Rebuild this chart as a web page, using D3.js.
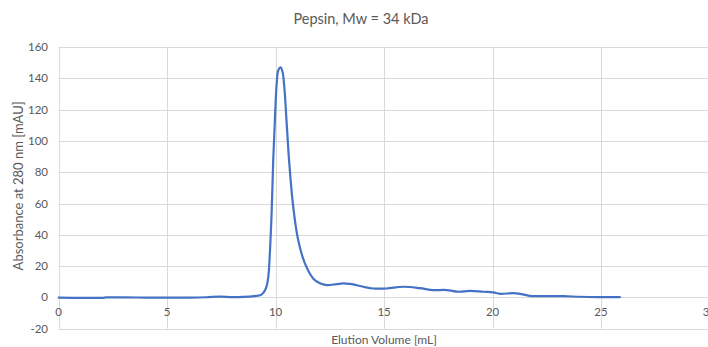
<!DOCTYPE html>
<html>
<head>
<meta charset="utf-8">
<script src="https://cdn.jsdelivr.net/npm/d3@7"></script>
<style>
  html, body { margin: 0; padding: 0; background: #fff; }
  svg { display: block; font-family: Lato, "Open Sans", sans-serif; }
</style>
</head>
<body>
<svg id="chart" width="708" height="347"></svg>
<script>
// Elution volume (mL) and absorbance (mAU) for the pepsin run
const volume = [0, 1, 2, 2.2, 3, 4, 5, 6, 6.8, 7.4, 8, 8.5, 9, 9.35, 9.55, 9.66, 9.74, 9.82, 9.89, 9.97, 10.05, 10.12, 10.23, 10.32, 10.4, 10.51, 10.63, 10.81, 11.04, 11.35, 11.73, 12.04, 12.35, 12.81, 13.12, 13.42, 13.58, 14.04, 14.5, 15.11, 15.88, 16.65, 17.26, 17.88, 18.42, 18.95, 19.57, 20.03, 20.34, 20.95, 21.26, 21.72, 22.49, 23.25, 24.02, 24.79, 25.87];
const absorbance = [-0.2, -0.3, -0.3, 0, 0, -0.1, -0.1, -0.1, 0.1, 0.5, 0.2, 0.3, 0.8, 1.8, 5.7, 13, 30, 56, 88, 115, 137, 145, 147, 144, 134.5, 111, 85.6, 58, 36.6, 21.7, 12.1, 9, 7.9, 8.5, 8.9, 8.6, 8.3, 6.8, 5.7, 5.7, 6.8, 5.9, 4.7, 4.7, 3.6, 4.2, 3.6, 3.2, 2.3, 2.7, 2.3, 1.0, 0.8, 0.8, 0.4, 0.2, 0.2];

const xTicks = [0, 5, 10, 15, 20, 25, 30];
const yTicks = [-20, 0, 20, 40, 60, 80, 100, 120, 140, 160];

const titleText = "Pepsin, Mw = 34 kDa";
const xTitle = "Elution Volume [mL]";
const yTitle = "Absorbance at 280 nm [mAU]";

const svg = d3.select("#chart");
const plotLeft = 58.7, plotRight = 709.5, plotTop = 47, plotBottom = 328.7;

const x = d3.scaleLinear().domain([0, 30]).range([plotLeft, plotRight]);
const y = d3.scaleLinear().domain([-20, 160]).range([plotBottom, plotTop]);

const grid = "#d9d9d9", textCol = "#595959";

// horizontal gridlines
svg.append("g").selectAll("line").data(yTicks).join("line")
  .attr("x1", plotLeft).attr("x2", plotRight)
  .attr("y1", d => Math.round(y(d)) + 0.5).attr("y2", d => Math.round(y(d)) + 0.5)
  .attr("stroke", grid).attr("stroke-width", 1);

// vertical gridlines
svg.append("g").selectAll("line").data(xTicks).join("line")
  .attr("y1", plotTop).attr("y2", plotBottom)
  .attr("x1", d => Math.round(x(d)) + 0.5).attr("x2", d => Math.round(x(d)) + 0.5)
  .attr("stroke", grid).attr("stroke-width", 1);

// y tick labels
svg.append("g").selectAll("text").data(yTicks).join("text")
  .attr("x", 48).attr("y", d => y(d) + 4)
  .attr("text-anchor", "end").attr("font-size", 11.5).attr("fill", textCol)
  .text(d => d);

// x tick labels, sitting just under the zero line
svg.append("g").selectAll("text").data(xTicks).join("text")
  .attr("x", d => x(d)).attr("y", y(0) + 19)
  .attr("text-anchor", "middle").attr("font-size", 11.5).attr("fill", textCol)
  .text(d => d);

// absorbance trace
const line = d3.line()
  .x((d, i) => x(volume[i]))
  .y(d => y(d))
  .curve(d3.curveCatmullRom.alpha(0.5));

svg.append("path").datum(absorbance)
  .attr("d", line)
  .attr("fill", "none").attr("stroke", "#4472C4")
  .attr("stroke-width", 2.2).attr("stroke-linejoin", "round").attr("stroke-linecap", "round");

// titles
svg.append("text").attr("x", 361).attr("y", 24)
  .attr("text-anchor", "middle").attr("font-size", 14.5).attr("fill", textCol)
  .text(titleText);

svg.append("text").attr("x", 384).attr("y", 344)
  .attr("text-anchor", "middle").attr("font-size", 12).attr("fill", textCol)
  .text(xTitle);

svg.append("text")
  .attr("transform", `translate(23,${(plotTop + plotBottom) / 2 - 2}) rotate(-90)`)
  .attr("text-anchor", "middle").attr("font-size", 13).attr("fill", textCol)
  .text(yTitle);
</script>
</body>
</html>
